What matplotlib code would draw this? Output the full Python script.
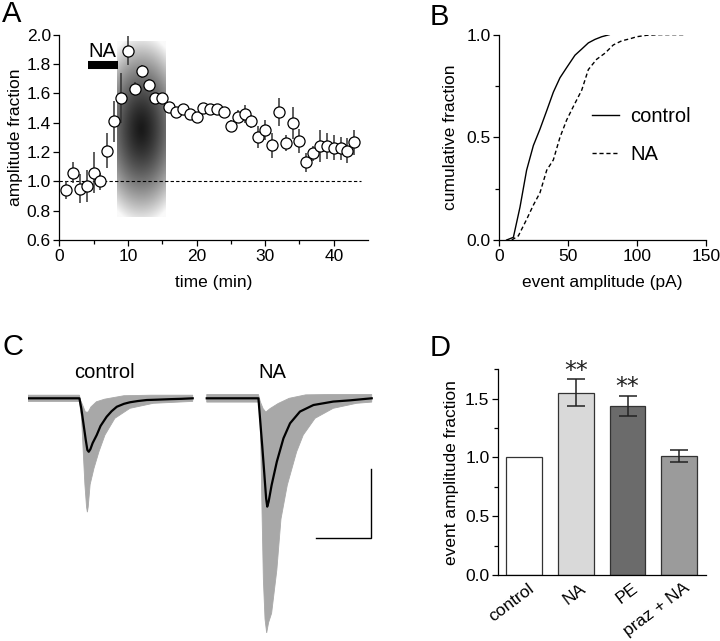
import numpy as np
import matplotlib
matplotlib.use('Agg')
import matplotlib.pyplot as plt

plt.rcParams['font.family'] = ['Liberation Sans', 'DejaVu Sans']
plt.rcParams['axes.linewidth'] = 0.9
plt.rcParams['xtick.direction'] = 'out'
plt.rcParams['ytick.direction'] = 'out'
plt.rcParams['xtick.major.size'] = 4
plt.rcParams['ytick.major.size'] = 4
plt.rcParams['xtick.minor.size'] = 3
plt.rcParams['ytick.minor.size'] = 3
plt.rcParams['xtick.major.width'] = 0.9
plt.rcParams['ytick.major.width'] = 0.9
plt.rcParams['xtick.minor.width'] = 0.9
plt.rcParams['ytick.minor.width'] = 0.9
plt.rcParams['xtick.major.pad'] = 2.5
plt.rcParams['ytick.major.pad'] = 2

TICK = 12.5
LAB = 12.5
BIG = 14.5

# --- A: time course ---
time_min = list(range(1, 44))
amp_frac = [0.94, 1.06, 0.95, 0.97, 1.06, 1.00, 1.21, 1.41, 1.57, 1.89,
            1.63, 1.75, 1.66, 1.57, 1.57, 1.51, 1.47, 1.49, 1.46, 1.44,
            1.50, 1.49, 1.49, 1.47, 1.38, 1.44, 1.46, 1.41, 1.30, 1.35,
            1.245, 1.47, 1.26, 1.40, 1.275, 1.13, 1.19, 1.24, 1.24, 1.23,
            1.225, 1.21, 1.265]
amp_err = [0.06, 0.07, 0.10, 0.11, 0.14, 0.06, 0.12, 0.14, 0.17, 0.10,
           0.05, 0.045, 0.035, 0.03, 0.025, 0.03, 0.025, 0.025, 0.025, 0.02,
           0.025, 0.025, 0.025, 0.025, 0.04, 0.045, 0.06, 0.045, 0.075, 0.065,
           0.085, 0.095, 0.055, 0.11, 0.085, 0.065, 0.05, 0.11, 0.09, 0.085,
           0.08, 0.085, 0.085]
na_bar = (4.2, 8.5)
shade_box = (8.4, 15.45, 0.76, 1.96)

# --- B: cumulative distributions ---
ctrl_x = [5.3, 10.2, 15, 19.8, 24.7, 29.5, 34.4, 39.2, 44, 48.9, 54.9,
          59.8, 64.6, 69.4, 74.3, 79.8]
ctrl_y = [0, 0.013, 0.16, 0.34, 0.46, 0.54, 0.63, 0.72, 0.79, 0.84, 0.90,
          0.93, 0.96, 0.977, 0.99, 1.0]
na_x = [9, 13.8, 19.8, 24.7, 29.5, 34.4, 39.2, 44, 48.9, 53.7, 59.8, 64.6,
        70.6, 76.7, 82.7, 88.8, 94.8, 99.7, 106.9, 116.6, 133.5]
na_y = [0, 0.02, 0.10, 0.17, 0.23, 0.34, 0.39, 0.50, 0.585, 0.65, 0.73,
        0.83, 0.88, 0.91, 0.95, 0.97, 0.98, 0.99, 0.997, 1.0, 1.0]

# --- C: example traces (ms, pA) ---
ctrl_mean_t = [0, 10, 18.8, 19.5, 20.3, 21.1, 21.7, 22.2, 22.8, 23.6, 25.1,
               26.5, 28.7, 30.5, 32.4, 35, 37.2, 40, 43.3, 47, 51.8, 56, 60]
ctrl_mean_i = [0, 0, 0, -6, -15, -24, -30, -31, -29.5, -26, -21.3,
               -16, -10.7, -7.5, -4.9, -3.2, -2.3, -1.6, -1.0, -0.8, -0.5, -0.3, 0]
ctrl_low_t = [0, 18.8, 19.6, 20.2, 20.8, 21.4, 21.7, 22.0, 22.7, 24.1, 25.9,
              28.1, 31.7, 37.2, 45.7, 60]
ctrl_low_i = [-1.8, -1.8, -11.6, -31, -50, -63, -66, -63, -50, -40.6, -31,
              -21.3, -11.6, -5.8, -2.9, -1.8]
ctrl_up_t = [60, 45, 35, 28, 25, 23, 22, 21, 20, 19.2, 18.8, 0]
ctrl_up_i = [1.8, 1.8, 1.5, -0.5, -2, -5, -8, -8, -4, -1, 1.8, 1.8]

na_mean_t = [0, 10, 18.8, 19.3, 20.2, 21.0, 21.6, 22.0, 22.5, 23.6, 25.5,
             27.9, 30.3, 33.9, 38.8, 46, 52, 60]
na_mean_i = [0, 0, 0, -10, -28, -45, -58, -62.8, -60, -50.3, -36.7,
             -23.2, -14.5, -7.7, -3.9, -1.9, -1.2, 0]
na_low_t = [0, 18.8, 19.3, 19.7, 20.1, 20.6, 21.2, 21.8, 22.5, 23.6, 25.5,
            27.0, 29.3, 32.7, 35.1, 39.4, 46, 54.5, 60]
na_low_i = [-2.2, -2.2, -8, -30, -65, -105, -128, -136, -130, -124.6, -99.5,
            -70, -50.3, -31, -21.3, -11.6, -5.8, -2.9, -2.2]
na_up_t = [60, 45, 36, 30, 26, 23, 21.5, 20.5, 19.5, 18.8, 0]
na_up_i = [2.2, 2.2, 2, 0, -3, -6, -8, -6, -2, 2.2, 2.2]
na_offset = 65.1
scale_ms = 20
scale_pA = 40

# --- D: summary bars ---
groups = ['control', 'NA', 'PE', 'praz + NA']
bar_vals = [1.0, 1.55, 1.44, 1.01]
bar_err = [0, 0.115, 0.085, 0.05]
bar_cols = ['white', '#d9d9d9', '#6b6b6b', '#9b9b9b']
signif = ['', '**', '**', '']

fig = plt.figure(figsize=(7.2, 6.41), dpi=100)

# panel A
axA = fig.add_axes([0.0824, 0.6256, 0.4288, 0.3203])
x0, x1, y0, y1 = shade_box
gx, gy = np.meshgrid(np.linspace(x0, x1, 200), np.linspace(y0, y1, 300))
r = np.sqrt(((gx - 11.9) / 6.9) ** 2 + ((gy - 1.36) / 0.65) ** 2)
grey = 0.1 + 0.88 * np.clip(r, 0, 1) ** 1.5
axA.imshow(grey, extent=shade_box, origin='lower', cmap='gray', vmin=0,
           vmax=1, aspect='auto', zorder=0, interpolation='bilinear')
axA.axhline(1.0, xmin=0, xmax=44 / 45, color='black', lw=0.8,
            dashes=(3, 2), zorder=1)
axA.errorbar(time_min, amp_frac, yerr=amp_err, fmt='o', ms=8,
             mfc='white', mec='black', mew=0.9, ecolor='#333333',
             elinewidth=1.1, capsize=0, zorder=3)
axA.hlines(1.79, na_bar[0], na_bar[1], color='black', lw=5.8)
axA.text(sum(na_bar) / 2 - 0.1, 1.85, 'NA', fontsize=BIG, ha='center',
         va='baseline')
axA.set_xlim(0, 45)
axA.set_ylim(0.6, 2.0)
axA.set_xticks([0, 10, 20, 30, 40])
axA.set_xticks([5, 15, 25, 35], minor=True)
axA.set_yticks(np.arange(0.6, 2.01, 0.2))
axA.set_yticklabels([f'{v:.1f}' for v in np.arange(0.6, 2.01, 0.2)])
axA.tick_params(labelsize=TICK)
axA.set_xlabel('time (min)', fontsize=LAB, labelpad=8)
axA.set_ylabel('amplitude fraction', fontsize=LAB, labelpad=3)
for s in ['top', 'right']:
    axA.spines[s].set_visible(False)

# panel B
axB = fig.add_axes([0.6935, 0.6256, 0.2871, 0.3203])
axB.plot(ctrl_x, ctrl_y, color='black', lw=1.0, label='control')
axB.plot(na_x, na_y, color='black', lw=1.0, dashes=(3, 2), label='NA')
axB.set_xlim(0, 150)
axB.set_ylim(0, 1.0)
axB.set_xticks([0, 50, 100, 150])
axB.set_yticks([0, 0.5, 1.0])
axB.set_yticklabels(['0.0', '0.5', '1.0'])
axB.set_yticks([0.25, 0.75], minor=True)
axB.tick_params(labelsize=TICK)
axB.set_xlabel('event amplitude (pA)', fontsize=LAB, labelpad=8)
axB.set_ylabel('cumulative fraction', fontsize=LAB, labelpad=6)
for s in ['top', 'right']:
    axB.spines[s].set_visible(False)
axB.legend(loc='upper left', bbox_to_anchor=(592 / 720, 1 - 107 / 641),
           bbox_transform=fig.transFigure, frameon=False, fontsize=BIG,
           handlelength=1.35, handletextpad=0.55, labelspacing=0.95,
           borderpad=0, borderaxespad=0)

# panel C
axC = fig.add_axes([27.7 / 720, 0, 360 / 720, 251 / 641])
axC.set_xlim(0, 360 / 2.75)
axC.set_ylim(-140.7, 4.81)
axC.axis('off')
tr_grey = '#a8a8a8'
axC.fill(ctrl_low_t + ctrl_up_t, ctrl_low_i + ctrl_up_i, color=tr_grey,
         lw=0.6)
axC.plot(ctrl_mean_t, ctrl_mean_i, color='black', lw=1.6)
axC.fill([t + na_offset for t in na_low_t + na_up_t], na_low_i + na_up_i,
         color=tr_grey, lw=0.6)
axC.plot([t + na_offset for t in na_mean_t], na_mean_i, color='black',
         lw=1.6)
sx, sy = 124.7, -81
axC.plot([sx - scale_ms, sx, sx], [sy, sy, sy + scale_pA], color='black',
         lw=1.0, solid_joinstyle='miter')
fig.text(104 / 720, 1 - 372 / 641, 'control', fontsize=BIG, ha='center',
         va='center')
fig.text(272 / 720, 1 - 372 / 641, 'NA', fontsize=BIG, ha='center',
         va='center')

# panel D
axD = fig.add_axes([0.6913, 0.103, 0.2894, 0.3209])
xs = np.arange(len(groups))
axD.bar(xs, bar_vals, width=0.69, color=bar_cols, edgecolor='#333333',
        lw=0.9, zorder=2)
for x, v, e, s in zip(xs, bar_vals, bar_err, signif):
    if e > 0:
        axD.errorbar(x, v, yerr=e, color='#222222', elinewidth=1.1,
                     capsize=6.3, capthick=1.1, zorder=3)
    if s:
        axD.text(x, v + e + 0.07, s, fontsize=17, ha='center', va='center',
                 family='DejaVu Sans', color='#222222')
axD.set_xlim(-0.51, 3.52)
axD.set_ylim(0, 1.75)
axD.set_yticks([0, 0.5, 1.0, 1.5])
axD.set_yticklabels(['0.0', '0.5', '1.0', '1.5'])
axD.set_yticks([0.25, 0.75, 1.25, 1.75], minor=True)
axD.set_xticks(xs + 0.08)
axD.set_xticklabels(groups, rotation=37, ha='right', rotation_mode='anchor')
axD.tick_params(axis='x', length=0, pad=4)
axD.tick_params(labelsize=TICK)
axD.set_ylabel('event amplitude fraction', fontsize=LAB, labelpad=4)
for s in ['top', 'right']:
    axD.spines[s].set_visible(False)

# panel letters
for lbl, px, py in [('A', 2, 21.7), ('B', 430, 25), ('C', 2, 355),
                    ('D', 430, 356)]:
    fig.text(px / 720, 1 - py / 641, lbl, fontsize=21, ha='left',
             va='baseline')

fig.savefig('out.png', dpi=100)
